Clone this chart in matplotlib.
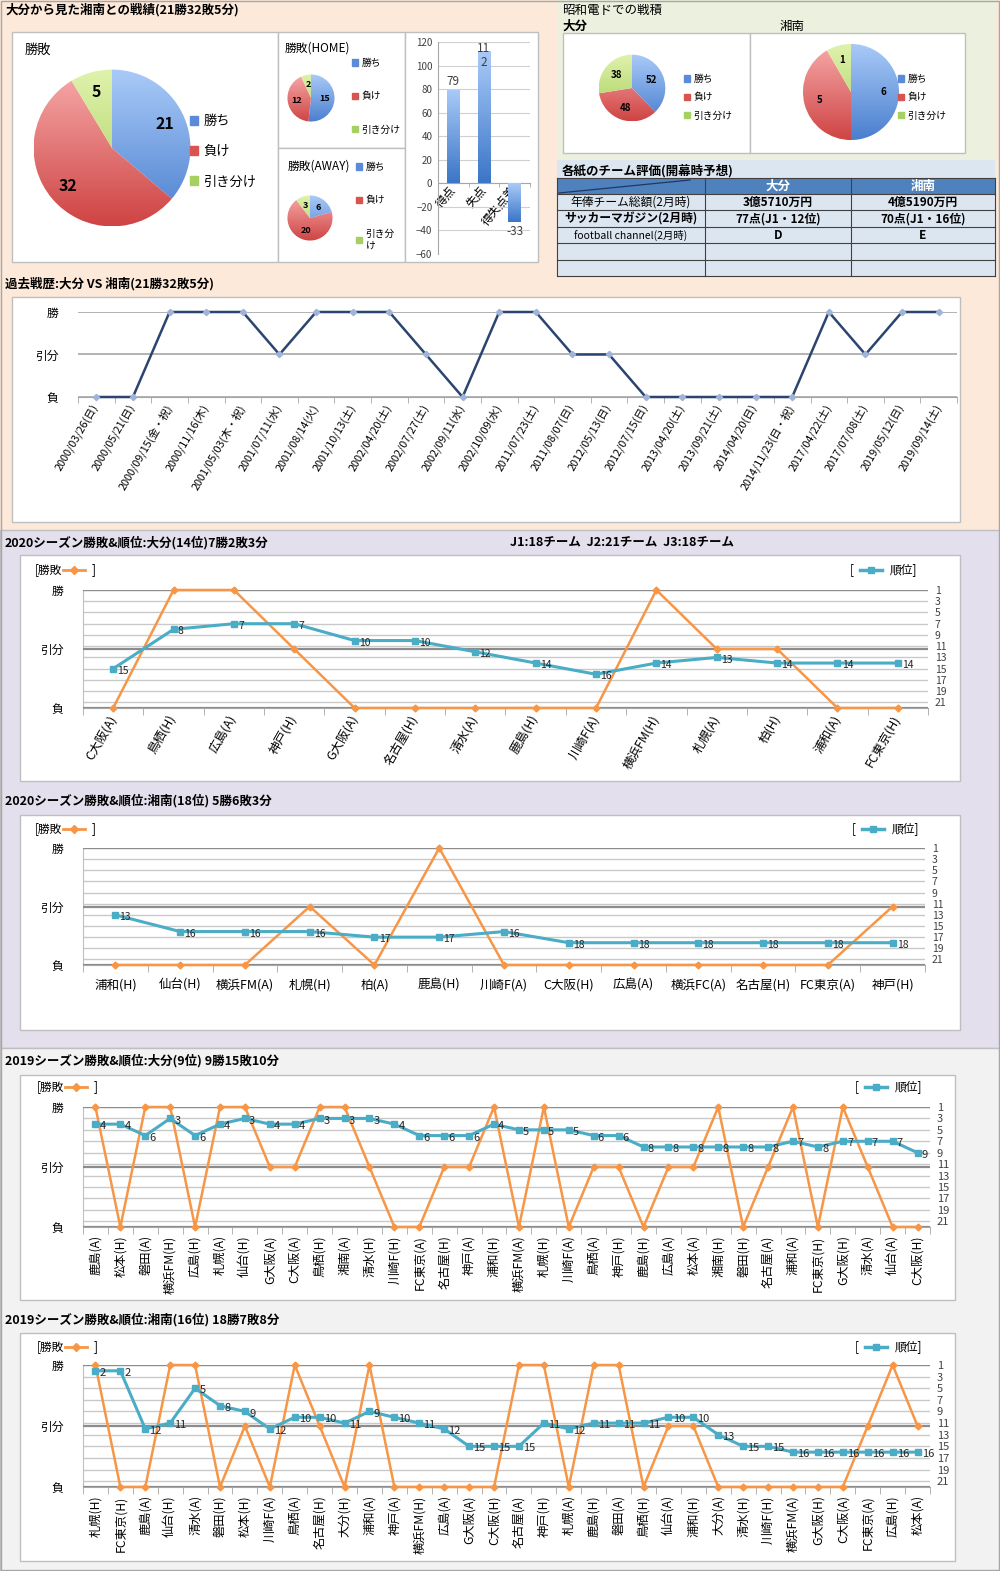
import numpy as np
import matplotlib
matplotlib.use('Agg')
import matplotlib.pyplot as plt
from matplotlib.patches import Rectangle
from matplotlib.lines import Line2D
from matplotlib.colors import LinearSegmentedColormap

plt.rcParams['font.family'] = ['Noto Sans CJK JP', 'DejaVu Sans']

W, H = 1000, 1571

# ---------------- data ----------------
wdl_labels = ['勝ち', '負け', '引き分け']
total_vals = [21, 32, 5]
home_vals = [15, 12, 2]
away_vals = [6, 20, 3]

goal_cats = ['得点', '失点', '得失点差']
goal_vals = [79, 112, -33]
goal_labels = ['79', '11\n2', '-33']

showa_oita = [52, 48, 38]
showa_shonan = [6, 5, 1]

table_head = ['大分', '湘南']
table_items = ['年俸チーム総額(2月時)', 'サッカーマガジン(2月時)', 'football channel(2月時)', '', '']
table_oita = ['3億5710万円', '77点(J1・12位)', 'D', '', '']
table_shonan = ['4億5190万円', '70点(J1・16位)', 'E', '', '']

res_names = ['負', '引分', '勝']   # 0 = 負, 1 = 引分, 2 = 勝

hist_dates = ['2000/03/26(日)', '2000/05/21(日)', '2000/09/15(金・祝)', '2000/11/16(木)',
              '2001/05/03(木・祝)', '2001/07/11(水)', '2001/08/14(火)', '2001/10/13(土)',
              '2002/04/20(土)', '2002/07/27(土)', '2002/09/11(水)', '2002/10/09(水)',
              '2011/07/23(土)', '2011/08/07(日)', '2012/05/13(日)', '2012/07/15(日)',
              '2013/04/20(土)', '2013/09/21(土)', '2014/04/20(日)', '2014/11/23(日・祝)',
              '2017/04/22(土)', '2017/07/08(土)', '2019/05/12(日)', '2019/09/14(土)']
hist_res = [0, 0, 2, 2, 2, 1, 2, 2, 2, 1, 0, 2, 2, 1, 1, 0, 0, 0, 0, 0, 2, 1, 2, 2]

oita20_opp = ['C大阪(A)', '鳥栖(H)', '広島(A)', '神戸(H)', 'G大阪(A)', '名古屋(H)', '清水(A)',
              '鹿島(H)', '川崎F(A)', '横浜FM(H)', '札幌(A)', '柏(H)', '浦和(A)', 'FC東京(H)']
oita20_res = [0, 2, 2, 1, 0, 0, 0, 0, 0, 2, 1, 1, 0, 0]
oita20_rank = [15, 8, 7, 7, 10, 10, 12, 14, 16, 14, 13, 14, 14, 14]

shonan20_opp = ['浦和(H)', '仙台(H)', '横浜FM(A)', '札幌(H)', '柏(A)', '鹿島(H)', '川崎F(A)',
                'C大阪(H)', '広島(A)', '横浜FC(A)', '名古屋(H)', 'FC東京(A)', '神戸(H)']
shonan20_res = [0, 0, 0, 1, 0, 2, 0, 0, 0, 0, 0, 0, 1]
shonan20_rank = [13, 16, 16, 16, 17, 17, 16, 18, 18, 18, 18, 18, 18]

oita19_opp = ['鹿島(A)', '松本(H)', '磐田(A)', '横浜FM(H)', '広島(H)', '札幌(A)', '仙台(H)',
              'G大阪(A)', 'C大阪(A)', '鳥栖(H)', '湘南(A)', '清水(H)', '川崎F(H)', 'FC東京(A)',
              '名古屋(H)', '神戸(A)', '浦和(H)', '横浜FM(A)', '札幌(H)', '川崎F(A)', '鳥栖(A)',
              '神戸(H)', '鹿島(H)', '広島(A)', '松本(A)', '湘南(H)', '磐田(H)', '名古屋(A)',
              '浦和(A)', 'FC東京(H)', 'G大阪(H)', '清水(A)', '仙台(A)', 'C大阪(H)']
oita19_res = [2, 0, 2, 2, 0, 2, 2, 1, 1, 2, 2, 1, 0, 0, 1, 1, 2,
              0, 2, 0, 1, 1, 0, 1, 1, 2, 0, 1, 2, 0, 2, 1, 0, 0]
oita19_rank = [4, 4, 6, 3, 6, 4, 3, 4, 4, 3, 3, 3, 4, 6, 6, 6, 4,
               5, 5, 5, 6, 6, 8, 8, 8, 8, 8, 8, 7, 8, 7, 7, 7, 9]

shonan19_opp = ['札幌(H)', 'FC東京(H)', '鹿島(A)', '仙台(H)', '清水(A)', '磐田(H)', '松本(H)',
                '川崎F(A)', '鳥栖(A)', '名古屋(H)', '大分(H)', '浦和(A)', '神戸(A)', '横浜FM(H)',
                '広島(A)', 'G大阪(A)', 'C大阪(H)', '名古屋(A)', '神戸(H)', '札幌(A)', '鹿島(H)',
                '磐田(A)', '鳥栖(H)', '仙台(A)', '浦和(H)', '大分(A)', '清水(H)', '川崎F(H)',
                '横浜FM(A)', 'G大阪(H)', 'C大阪(A)', 'FC東京(A)', '広島(H)', '松本(A)']
shonan19_res = [2, 0, 0, 2, 2, 0, 1, 0, 2, 1, 0, 2, 0, 0, 0, 0, 0,
                2, 2, 0, 2, 2, 0, 1, 1, 0, 0, 0, 0, 0, 0, 1, 2, 1]
shonan19_rank = [2, 2, 12, 11, 5, 8, 9, 12, 10, 10, 11, 9, 10, 11, 12, 15, 15,
                 15, 11, 12, 11, 11, 11, 10, 10, 13, 15, 15, 16, 16, 16, 16, 16, 16]

# ---------------- colours ----------------
PIE_TOP = ['#A9CAF8', '#F7AAAA', '#DFF2AC']
PIE_BOT = ['#4A7FCF', '#CF4444', '#A6CD5B']
PIE_LEG = ['#5B8BD6', '#D9534F', '#A6D061']
C_ORANGE = '#F79646'
C_TEAL = '#4BACC6'
C_NAVY = '#2B4570'

fig = plt.figure(figsize=(W / 100, H / 100), dpi=100)


def px_axes(x0, y0, x1, y1):
    return fig.add_axes([x0 / W, 1 - y1 / H, (x1 - x0) / W, (y1 - y0) / H])


def px2fig(x, y):
    return (x / W, 1 - y / H)


bg = fig.add_axes([0, 0, 1, 1])
bg.set_xlim(0, W)
bg.set_ylim(H, 0)
bg.axis('off')


def box(x0, y0, x1, y1, fc='white', ec='#BFBFBF', lw=1.0):
    bg.add_patch(Rectangle((x0, y0), x1 - x0, y1 - y0, facecolor=fc, edgecolor=ec, lw=lw))


# section backgrounds
box(0, 0, W, 530, fc='#FDE9D9', ec='none')
box(557, 0, 995, 160, fc='#EBF1DE', ec='none')
box(557, 160, 995, 276, fc='#DCE6F1', ec='none')
box(0, 530, W, 1048, fc='#E4DFEC', ec='#BFBFBF')
box(0, 1048, W, H, fc='#F2F2F2', ec='#BFBFBF')
box(0.5, 0.5, W - 1, H - 1, fc='none', ec='#A6A6A6')

# white chart boxes
box(12, 32, 278, 262)
box(278, 32, 405, 148)
box(278, 148, 405, 262)
box(405, 32, 538, 262)
box(563, 33, 750, 153)
box(750, 33, 965, 153)
box(12, 297, 960, 522)
box(20, 555, 960, 781)
box(20, 815, 960, 1030)
box(20, 1075, 955, 1300)
box(20, 1333, 955, 1561)

# titles
tkw = dict(va='center', ha='left', fontsize=9, fontweight='bold')
bg.text(5, 10, '大分から見た湘南との戦績(21勝32敗5分)', **tkw)
bg.text(562, 10, '昭和電ドでの戦積', va='center', fontsize=9)
bg.text(562, 26, '大分', **tkw)
bg.text(780, 26, '湘南', va='center', fontsize=9)
bg.text(562, 171, '各紙のチーム評価(開幕時予想)', **tkw)
bg.text(5, 284, '過去戦歴:大分 VS 湘南(21勝32敗5分)', **tkw)
bg.text(5, 543, '2020シーズン勝敗&順位:大分(14位)7勝2敗3分', **tkw)
bg.text(510, 543, 'J1:18チーム  J2:21チーム  J3:18チーム', **tkw)
bg.text(5, 801, '2020シーズン勝敗&順位:湘南(18位) 5勝6敗3分', **tkw)
bg.text(5, 1061, '2019シーズン勝敗&順位:大分(9位) 9勝15敗10分', **tkw)
bg.text(5, 1320, '2019シーズン勝敗&順位:湘南(16位) 18勝7敗8分', **tkw)
bg.text(25, 50, '勝敗', va='center', fontsize=9.5)
bg.text(285, 48, '勝敗(HOME)', va='center', fontsize=8.5)
bg.text(288, 166, '勝敗(AWAY)', va='center', fontsize=8.5)


# ---------------- pies ----------------
def grad_pie(rect, vals, fs, dist):
    ax = px_axes(*rect)
    wedges, texts = ax.pie(vals, startangle=90, counterclock=False,
                           labels=[str(v) for v in vals], labeldistance=dist,
                           wedgeprops=dict(linewidth=0),
                           textprops=dict(fontsize=fs, fontweight='bold', ha='center', va='center'))
    for w, ct, cb in zip(wedges, PIE_TOP, PIE_BOT):
        cmap = LinearSegmentedColormap.from_list('g', [cb, ct])
        im = ax.imshow(np.linspace(0, 1, 64).reshape(-1, 1), cmap=cmap, origin='lower',
                       extent=(-1, 1, -1, 1), aspect='auto', zorder=0.5)
        im.set_clip_path(w)
        w.set_facecolor('none')
    ax.set_xlim(-1.02, 1.02)
    ax.set_ylim(-1.02, 1.02)
    ax.set_aspect('equal')
    ax.axis('off')
    return ax


def pie_legend(ax, labels, x, y, fs, spacing):
    handles = [Rectangle((0, 0), 1, 1, color=c) for c in PIE_LEG]
    ax.legend(handles, labels, loc='upper left', bbox_to_anchor=px2fig(x, y),
              bbox_transform=fig.transFigure, frameon=False, fontsize=fs,
              handlelength=0.6, handleheight=0.6, handletextpad=0.4,
              labelspacing=spacing, borderpad=0, borderaxespad=0)


ax = grad_pie((32, 68, 192, 228), total_vals, 11.5, 0.74)
pie_legend(ax, wdl_labels, 190, 115, 9.5, 1.3)

ax = grad_pie((287, 74, 335, 122), home_vals, 6.5, 0.6)
pie_legend(ax, wdl_labels, 352, 58, 7, 2.4)

ax = grad_pie((287, 195, 333, 241), away_vals, 6.5, 0.6)
pie_legend(ax, ['勝ち', '負け', '引き分\nけ'], 356, 162, 7, 2.4)

ax = grad_pie((598, 54, 666, 122), showa_oita, 7, 0.62)
pie_legend(ax, wdl_labels, 684, 74, 7, 0.85)

ax = grad_pie((802, 43, 900, 141), showa_shonan, 7, 0.68)
pie_legend(ax, wdl_labels, 898, 74, 7, 0.85)

# ---------------- goals bar ----------------
ax = px_axes(438, 42, 530, 254)
xs = np.arange(len(goal_vals))
bars = ax.bar(xs, goal_vals, width=0.42, linewidth=0, zorder=2)
cmap = LinearSegmentedColormap.from_list('g', ['#3B76C7', '#A9CAF8'])
for b, v in zip(bars, goal_vals):
    x0 = b.get_x()
    lo, hi = min(0, v), max(0, v)
    im = ax.imshow(np.linspace(0, 1, 64).reshape(-1, 1), cmap=cmap, origin='lower',
                   extent=(x0, x0 + b.get_width(), lo, hi), aspect='auto', zorder=3)
    im.set_clip_path(b)
    b.set_facecolor('none')
ax.set_xlim(-0.5, len(goal_vals) - 0.5)
ax.set_ylim(-60, 120)
ax.set_aspect('auto')
ax.set_yticks(np.arange(-60, 121, 20))
ax.tick_params(axis='y', length=0, labelsize=7, colors='#404040', pad=4)
ax.grid(axis='y', color='#D0D0D0', lw=0.8)
ax.set_axisbelow(True)
ax.spines['bottom'].set_position(('data', 0))
for s in ['top', 'right']:
    ax.spines[s].set_visible(False)
ax.spines['left'].set_color('#A6A6A6')
ax.spines['bottom'].set_color('#A6A6A6')
ax.set_xticks(xs)
ax.set_xticklabels(goal_cats, fontsize=8.5, rotation=50, ha='right', va='center', rotation_mode='anchor')
ax.set_xticks(np.arange(-0.5, len(goal_vals), 1), minor=True)
ax.tick_params(axis='x', which='major', length=0, pad=3)
ax.tick_params(axis='x', which='minor', length=3, color='#A6A6A6')
for i, (v, lab) in enumerate(zip(goal_vals, goal_labels)):
    if '\n' in lab:
        ax.text(i, 120, lab, ha='center', va='top', fontsize=8.5, linespacing=1.1, color='#404040')
    elif v >= 0:
        ax.annotate(lab, (i, v), xytext=(0, 2), textcoords='offset points', ha='center', va='bottom',
                    fontsize=8.5, color='#404040')
    else:
        ax.annotate(lab, (i, v), xytext=(0, -2), textcoords='offset points', ha='center', va='top',
                    fontsize=8.5, color='#404040')

# ---------------- table ----------------
tx = [557, 705, 851, 995]
ty_head, row_h = 178, 16.4
ty = [ty_head, ty_head + 16] + [ty_head + 16 + row_h * (k + 1) for k in range(len(table_items))]
box(tx[0], ty[0], tx[-1], ty[1], fc='#4F81BD', ec='none')
for k in range(len(table_items)):
    box(tx[0], ty[k + 1], tx[-1], ty[k + 2], fc='#DCE6F1', ec='none')
for y in ty:
    bg.plot([tx[0], tx[-1]], [y, y], color='#404040', lw=0.8)
for x in tx:
    bg.plot([x, x], [ty[0], ty[-1]], color='#404040', lw=0.8)
bg.plot([tx[0] + 2, tx[1] - 15], [ty[1] - 1, ty[0] + 2], color='#1F3864', lw=0.9)
for j, name in enumerate(table_head):
    bg.text((tx[j + 1] + tx[j + 2]) / 2, (ty[0] + ty[1]) / 2, name, ha='center', va='center',
            color='white', fontsize=9, fontweight='bold')
for k, (it, a, b) in enumerate(zip(table_items, table_oita, table_shonan)):
    yc = (ty[k + 1] + ty[k + 2]) / 2
    bg.text((tx[0] + tx[1]) / 2, yc, it, ha='center', va='center', fontsize=8.5 if k != 2 else 7.5,
            fontweight='bold' if k == 1 else 'normal')
    bg.text((tx[1] + tx[2]) / 2, yc, a, ha='center', va='center', fontsize=8.5, fontweight='bold')
    bg.text((tx[2] + tx[3]) / 2, yc, b, ha='center', va='center', fontsize=8.5, fontweight='bold')

# ---------------- history line ----------------
ax = px_axes(78, 312, 957, 397)
xs = np.arange(len(hist_res))
ax.plot(xs, hist_res, color=C_NAVY, lw=1.8, marker='D', ms=3.2, mfc='#9FB4D8', mec='#9FB4D8',
        clip_on=False, zorder=3)
ax.set_xlim(-0.5, len(hist_res) - 0.5)
ax.set_ylim(0, 2)
ax.set_yticks([0, 1, 2])
ax.set_yticklabels(res_names, fontsize=8.5)
ax.tick_params(axis='y', length=0, pad=14)
ax.grid(axis='y', color='#A6A6A6', lw=1.2)
ax.set_axisbelow(True)
for s in ['top', 'right', 'left']:
    ax.spines[s].set_visible(False)
ax.spines['bottom'].set_color('#A6A6A6')
ax.set_xticks(xs)
ax.set_xticklabels(hist_dates, fontsize=7.8, rotation=60, ha='right', va='center', rotation_mode='anchor')
ax.set_xticks(np.arange(-0.5, len(hist_res), 1), minor=True)
ax.tick_params(axis='x', which='major', length=0, pad=6)
ax.tick_params(axis='x', which='minor', length=4, color='#A6A6A6')


# ---------------- season charts ----------------
def season(rect, opps, res, rank, rot, fs, rfs):
    axg = px_axes(*rect)
    axr = axg.twinx()
    axk = axg.twinx()
    n = len(opps)
    xs = np.arange(n)
    axg.set_xlim(-0.5, n - 0.5)
    axg.set_ylim(22, 1)
    axg.set_yticks(np.arange(1, 22, 2))
    axg.yaxis.tick_right()
    axg.tick_params(axis='y', length=0, labelsize=rfs, pad=5, colors='#404040')
    axg.grid(axis='y', color='#C9C9C9', lw=1.0)
    axg.set_xticks(xs)
    if rot == 0:
        axg.set_xticklabels(opps, fontsize=fs)
        axg.tick_params(axis='x', which='major', length=0, pad=10)
    else:
        axg.set_xticklabels(opps, fontsize=fs, rotation=rot, ha='right', va='center',
                            rotation_mode='anchor')
        axg.tick_params(axis='x', which='major', length=0, pad=6)
    axg.set_xticks(np.arange(-0.5, n, 1), minor=True)
    axg.tick_params(axis='x', which='minor', length=5, color='#A6A6A6')
    for s in ['top', 'right']:
        axg.spines[s].set_visible(False)
    axg.spines['left'].set_color('#BFBFBF')
    axg.spines['bottom'].set_color('#A6A6A6')

    axr.set_ylim(0, 2)
    axr.yaxis.tick_left()
    axr.set_yticks([0, 1, 2])
    axr.set_yticklabels(res_names, fontsize=8.5)
    axr.tick_params(axis='y', length=0, pad=14)
    axr.grid(axis='y', color='#8C8C8C', lw=1.6)
    axr.set_axisbelow(True)
    for s in axr.spines.values():
        s.set_visible(False)
    axr.plot(xs, res, color=C_ORANGE, lw=1.8, marker='D', ms=3.5, clip_on=False)

    axk.set_ylim(22, 1)
    axk.plot(xs, rank, color=C_TEAL, lw=2.2, marker='s', ms=4.5, clip_on=False)
    for i, r in enumerate(rank):
        axk.annotate(str(r), (i, r), xytext=(3, -1.5), textcoords='offset points', va='center',
                     fontsize=rfs, color='#262626', annotation_clip=False)
    axk.axis('off')


def legend_marks(y, xl, xr):
    bg.text(xl, y, '[勝敗', va='center', fontsize=8.5)
    bg.add_line(Line2D([xl + 28, xl + 50], [y, y], color=C_ORANGE, lw=2))
    bg.plot([xl + 39], [y], marker='D', color=C_ORANGE, ms=4.5)
    bg.text(xl + 57, y, ']', va='center', fontsize=8.5)
    bg.text(xr, y, '[', va='center', fontsize=8.5)
    bg.add_line(Line2D([xr + 10, xr + 32], [y, y], color=C_TEAL, lw=2.5))
    bg.plot([xr + 21], [y], marker='s', color=C_TEAL, ms=5)
    bg.text(xr + 40, y, '順位]', va='center', fontsize=8.5)


season((83, 590, 928, 708), oita20_opp, oita20_res, oita20_rank, 60, 9, 7.5)
legend_marks(570, 35, 850)
season((83, 848, 925, 965), shonan20_opp, shonan20_res, shonan20_rank, 0, 9, 7.5)
legend_marks(829, 35, 852)
season((83, 1107, 930, 1227), oita19_opp, oita19_res, oita19_rank, 90, 8.8, 8)
legend_marks(1087, 37, 855)
season((83, 1365, 930, 1487), shonan19_opp, shonan19_res, shonan19_rank, 90, 8.8, 8)
legend_marks(1347, 37, 855)

fig.savefig('out.png', dpi=100)
